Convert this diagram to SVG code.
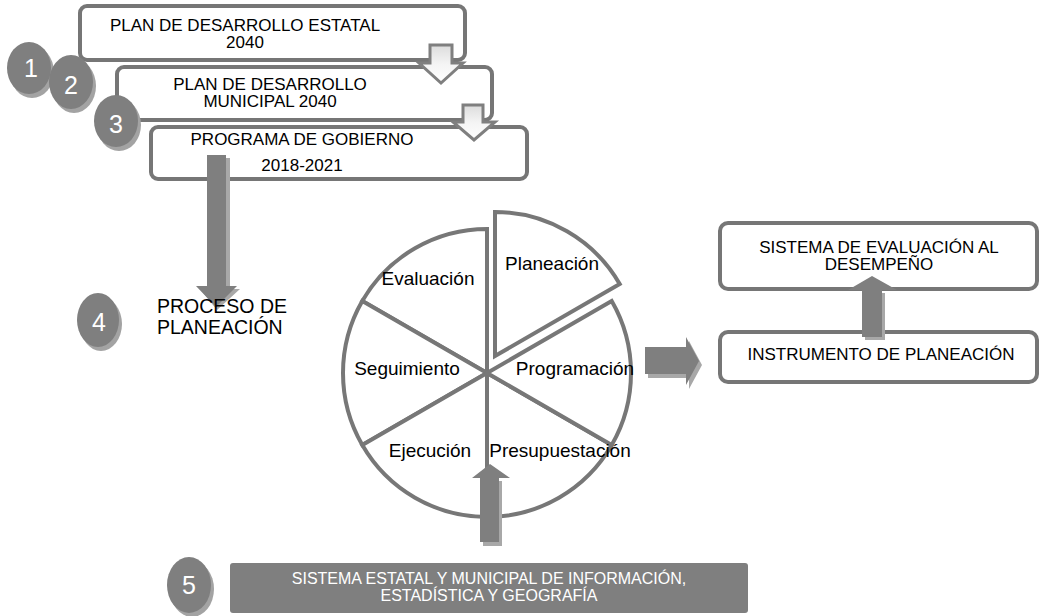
<svg xmlns="http://www.w3.org/2000/svg" width="1044" height="616" viewBox="0 0 1044 616">
<defs>
<style>
.box{fill:#ffffff;stroke:#767676;stroke-width:4}
.t{font-family:"Liberation Sans",Arial,sans-serif;font-size:17px;fill:#000;text-anchor:middle}
.pl{font-family:"Liberation Sans",Arial,sans-serif;font-size:19px;fill:#000;text-anchor:middle}
.num{font-family:"Liberation Sans",Arial,sans-serif;font-size:25px;fill:#ffffff;text-anchor:middle}
.wt{font-family:"Liberation Sans",Arial,sans-serif;font-size:16px;fill:#ffffff;text-anchor:middle}
.dot{fill:#7f7f7f}
.dsh{fill:#a3a3a3}
.ar{fill:#7f7f7f}
.ash{fill:#a8a8a8}
.hol{fill:url(#hg);stroke:#7f7f7f;stroke-width:3;stroke-linejoin:miter}
.sec{fill:#ffffff;stroke:#777777;stroke-width:4;stroke-linejoin:miter}
</style>
<linearGradient id="hg" x1="0" y1="0" x2="0" y2="1">
<stop offset="0" stop-color="#dcdcdc"/>
<stop offset="0.5" stop-color="#f4f4f4"/>
<stop offset="1" stop-color="#ffffff"/>
</linearGradient>
</defs>
<rect width="1044" height="616" fill="#ffffff"/>

<g id="box1"><rect class="box" x="80" y="6" width="385" height="54" rx="7"/>
<text class="t" x="245" y="31">PLAN DE DESARROLLO ESTATAL</text>
<text class="t" x="245" y="48">2040</text></g>
<g id="box2"><rect class="box" x="117" y="67" width="375" height="53" rx="7"/>
<text class="t" x="270" y="90">PLAN DE DESARROLLO</text>
<text class="t" x="270" y="107">MUNICIPAL 2040</text></g>
<g id="box3"><rect class="box" x="151" y="127" width="376" height="52" rx="7"/>
<text class="t" x="302" y="145">PROGRAMA DE GOBIERNO</text>
<text class="t" x="302" y="171">2018-2021</text></g>

<g id="pie">
<path class="sec" d="M487,373 L487,229 A144,144 0 0,0 362.3,301 Z"/>
<path class="sec" d="M487,373 L362.3,301 A144,144 0 0,0 362.3,445 Z"/>
<path class="sec" d="M487,373 L362.3,445 A144,144 0 0,0 487,517 Z"/>
<path class="sec" d="M487,373 L487,517 A144,144 0 0,0 611.7,445 Z"/>
<path class="sec" d="M487,373 L611.7,445 A144,144 0 0,0 611.7,301 Z"/>
<path class="sec" d="M495,356 L619.7,284 A144,144 0 0,0 495,212 Z"/>
<text class="pl" x="428" y="285">Evaluación</text>
<text class="pl" x="552" y="270">Planeación</text>
<text class="pl" x="407" y="375">Seguimiento</text>
<text class="pl" x="575" y="375">Programación</text>
<text class="pl" x="430" y="457">Ejecución</text>
<text class="pl" x="560" y="457">Presupuestación</text>
</g>

<g id="box-sed"><rect class="box" x="720" y="223" width="317" height="66" rx="8"/>
<text class="t" x="879" y="253">SISTEMA DE EVALUACIÓN AL</text>
<text class="t" x="879" y="270">DESEMPEÑO</text></g>
<g id="box-inst"><rect class="box" x="720" y="332" width="317" height="50" rx="8"/>
<text class="t" x="881" y="360">INSTRUMENTO DE PLANEACIÓN</text></g>

<g id="box-sis"><rect x="230" y="563" width="518" height="50" rx="3" fill="#7f7f7f"/>
<text class="wt" x="489" y="584">SISTEMA ESTATAL Y MUNICIPAL DE INFORMACIÓN,</text>
<text class="wt" x="489" y="601">ESTADÍSTICA Y GEOGRAFÍA</text></g>

<g id="connectors">
<polygon class="hol" points="430,45 452,45 452,63 463,63 441,83 419,63 430,63"/>
<polygon class="hol" points="463,105 483,105 483,122 495,122 474,140 453,122 463,122"/>
<polygon class="ash" points="210,158 230,158 230,289 240,289 217,310 200,289 210,289"/>
<polygon class="ar" points="207,155 226,155 226,286 237,286 216,307 196,286 207,286"/>
<polygon class="ash" points="648,351 689,351 689,341 702,365 689,389 689,378 648,378"/>
<polygon class="ar" points="645,347 686,347 686,337 699,361 686,385 686,374 645,374"/>
<polygon class="ash" points="865,293 885,293 885,340 865,340"/>
<polygon class="ar" points="862,290 848,290 872,276 897,290 882,290 882,337 862,337"/>
<polygon class="ash" points="483,481 502,481 502,546 483,546"/>
<polygon class="ar" points="480,478 472,478 490,464 510,478 499,478 499,542 480,542"/>
</g>

<g id="proceso">
<text font-family="Liberation Sans, Arial, sans-serif" font-size="19.5" x="157" y="313">PROCESO DE</text>
<text font-family="Liberation Sans, Arial, sans-serif" font-size="19.5" x="157" y="334">PLANEACIÓN</text>
</g>

<g id="n1"><ellipse class="dsh" cx="32" cy="72" rx="22" ry="26"/><ellipse class="dot" cx="29" cy="68" rx="22" ry="26"/><text class="num" x="31" y="77">1</text></g>
<g id="n2"><ellipse class="dsh" cx="74" cy="86" rx="22" ry="27"/><ellipse class="dot" cx="71" cy="82" rx="22" ry="27"/><text class="num" x="71" y="94">2</text></g>
<g id="n3"><ellipse class="dsh" cx="119" cy="125" rx="22" ry="26"/><ellipse class="dot" cx="116" cy="121" rx="22" ry="26"/><text class="num" x="116" y="133">3</text></g>
<g id="n4"><ellipse class="dsh" cx="101" cy="324" rx="21" ry="27"/><ellipse class="dot" cx="98" cy="320" rx="21" ry="27"/><text class="num" x="99" y="331">4</text></g>
<g id="n5"><ellipse class="dsh" cx="192" cy="589" rx="22" ry="28"/><ellipse class="dot" cx="189" cy="585" rx="22" ry="28"/><text class="num" x="189" y="594">5</text></g>
</svg>
